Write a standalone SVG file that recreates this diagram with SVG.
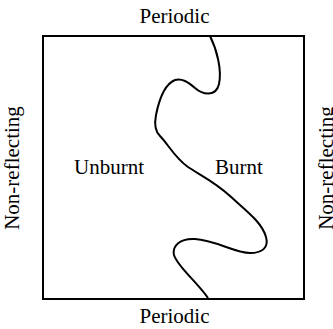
<svg xmlns="http://www.w3.org/2000/svg" width="333" height="329" viewBox="0 0 333 329">
<style>
.t{font-family:"Liberation Serif","Times New Roman",serif;font-size:21px;fill:#000}
.ln{fill:none;stroke:#000;stroke-width:2}
</style>
<rect width="333" height="329" fill="#fff"/>
<g id="domain">
<rect class="ln" x="43" y="36" width="261" height="263"/>
</g>
<g id="connectors">
<path id="flame-front" class="ln" d="M210,36 C217,50 222,70 219,84 C216,97 203,95 195,88 C188,82 182,78 175,80 C165,84 159,100 156,115 C154,125 155,131 160,136 C168,144 175,158 188,167 C200,175 215,182 230,196 C245,210 262,222 266,237 C269,248 262,253 250,253 C235,253 215,240 195,239 C180,238 172,246 174,255 C177,266 197,282 208,298"/>
</g>
<g id="top-label"><text class="t" x="174.5" y="23" text-anchor="middle">Periodic</text></g>
<g id="bottom-label"><text class="t" x="174.5" y="323" text-anchor="middle">Periodic</text></g>
<g id="unburnt"><text class="t" x="74" y="174">Unburnt</text></g>
<g id="burnt"><text class="t" x="215" y="174">Burnt</text></g>
<g id="left-label"><text class="t" transform="translate(19,168) rotate(-90)" text-anchor="middle">Non-reflecting</text></g>
<g id="right-label"><text class="t" transform="translate(333,168) rotate(-90)" text-anchor="middle">Non-reflecting</text></g>
</svg>
